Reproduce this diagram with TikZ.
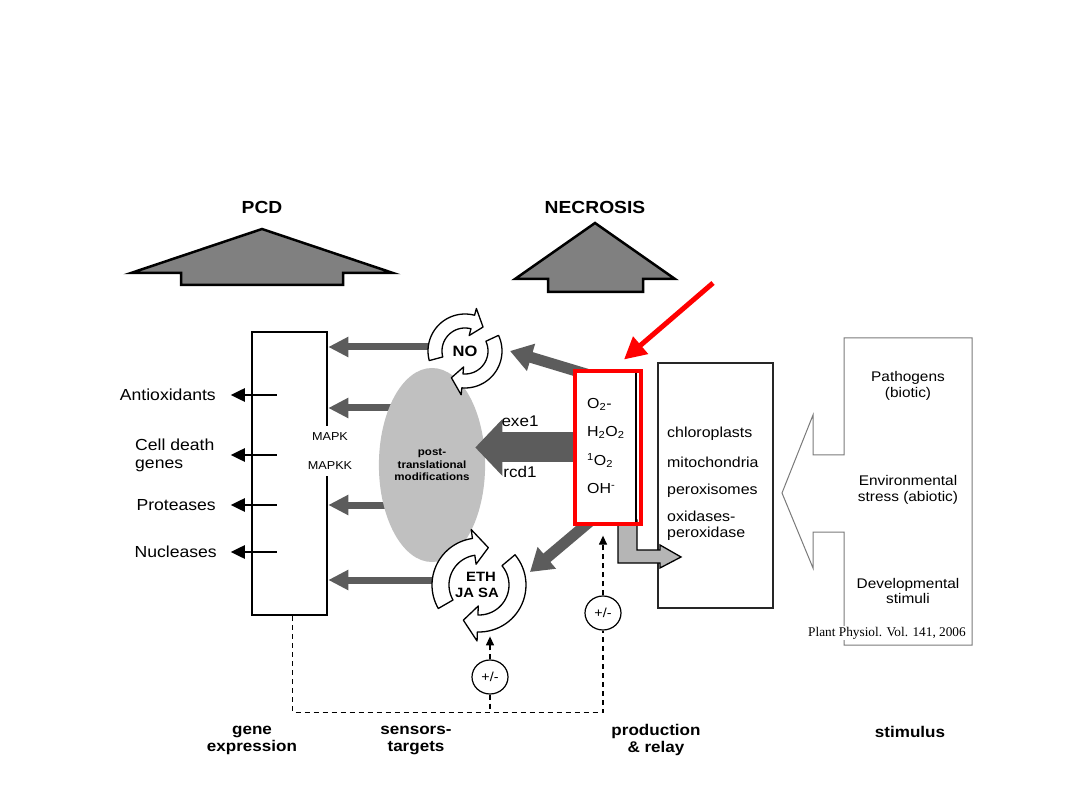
\documentclass[tikz,border=0pt]{standalone}
\usepackage{fontspec}
\setmainfont{Liberation Sans}[FakeStretch=1.1]
\newfontfamily\citefont{Liberation Serif}
\usetikzlibrary{arrows.meta,shapes.geometric,calc}
\definecolor{darkgrey}{HTML}{5C5C5C}
\definecolor{midgrey}{HTML}{808080}
\definecolor{ptmgrey}{HTML}{C0C0C0}
\definecolor{lgrey}{HTML}{B5B5B5}
\definecolor{stimgrey}{HTML}{7A7A7A}
\tikzset{
  title/.style={font=\fontsize{17.5}{20}\selectfont\bfseries,inner sep=0pt},
  bigup/.style={fill=midgrey,draw=black,line width=2.5pt},
  genebox/.style={rectangle,draw=black,line width=2.5pt,minimum width=75pt,
    minimum height=283pt,inner sep=0pt},
  mapkbox/.style={fill=white,align=center,inner xsep=1pt,inner ysep=7pt,
    font=\fontsize{11.5}{29}\selectfont},
  outlbl/.style={font=\fontsize{16}{18}\selectfont,inner sep=0pt},
  outarrow/.style={-{Triangle[length=14pt,width=13pt]},draw=black,line width=2.5pt},
  sarrow/.style={-{Triangle[length=20pt,width=19pt]},draw=darkgrey,line width=7pt},
  bigarrow/.style={-{Triangle[length=27pt,width=55pt]},draw=darkgrey,line width=30pt},
  roarrow/.style={-{Triangle[length=22pt,width=27pt]},draw=darkgrey,line width=11pt},
  ptm/.style={ellipse,fill=ptmgrey,minimum width=82pt,minimum height=194pt,
    inner sep=0pt,align=center,font=\fontsize{10.5}{12.5}\selectfont\bfseries},
  cyclbl/.style={align=center,inner sep=0pt,font=\fontsize{13.5}{16}\selectfont\bfseries},
  cycstyle/.style={fill=white,draw=black,line width=1.3pt,line join=round},
  pics/cycarrow/.style args={#1/#2/#3/#4/#5}{code={
    \draw[cycstyle] plot[domain=#1:#2,samples=30] (\x:#3)
      -- ({#2}:{#3+#5}) -- ({#2+22}:{(#3+#4)/2}) -- ({#2}:{#4-#5})
      -- plot[domain=#2:#1,samples=30] (\x:#4) -- cycle;
  }},
  explbl/.style={font=\fontsize{15.5}{18}\selectfont,inner sep=0pt},
  rosbox/.style={rectangle,draw=black,fill=white,line width=1.3pt,minimum width=61pt,
    minimum height=151pt,inner sep=0pt},
  hlbox/.style={rectangle,draw=red,line width=4pt,minimum width=66pt,
    minimum height=152pt,inner sep=0pt},
  rostext/.style={align=left,inner sep=0pt,font=\fontsize{14.5}{28.5}\selectfont},
  orgbox/.style={rectangle,draw=black!85,line width=1.3pt,minimum width=115pt,
    minimum height=245pt,inner sep=0pt},
  orgtext/.style={anchor=west,inner sep=0pt,align=left,font=\fontsize{14.5}{15.5}\selectfont},
  redarrow/.style={-{Triangle[length=22pt,width=22pt]},draw=red,line width=5pt},
  stimtext/.style={align=center,inner sep=0pt,font=\fontsize{14}{15.5}\selectfont},
  pm/.style={ellipse,draw=black,line width=1.2pt,minimum width=36pt,minimum height=34pt,
    inner sep=0pt,fill=white,font=\fontsize{13}{13}\selectfont},
  fb/.style={draw=black,line width=1.3pt,dash pattern=on 5pt off 4pt},
  fbarrow/.style={fb,-{Triangle[length=9pt,width=8pt]}},
  colhead/.style={align=center,inner sep=0pt,font=\fontsize{15.5}{17}\selectfont\bfseries},
}

\begin{document}
\begin{tikzpicture}[x=1pt,y=1pt,yscale=-1]
  \fill[white] (0,0) rectangle (1080,810);
  \useasboundingbox (0,0) rectangle (1080,810);

  % outcomes
  \node[title] (pcd) at (262,207) {PCD};
  \node[title] (necrosis) at (595,207) {NECROSIS};
  \draw[bigup] (262,229) -- (393,273) -- (343,273) -- (343,285) -- (181,285)
    -- (181,273) -- (131,273) -- cycle;
  \draw[bigup] (595,223) -- (675,279) -- (643,279) -- (643,292) -- (548,292)
    -- (548,279) -- (515,279) -- cycle;

  % gene expression
  \node[genebox] (gene) at (289.5,473.5) {};
  \coordinate (nocen)  at (465,351);
  \coordinate (ethcen) at (479,585);
  \coordinate (noout)  at ($(nocen)+(-31,-4)$);
  \coordinate (ptmtop) at (432,408);
  \coordinate (ptmbot) at (432,505);
  \coordinate (ethout) at ($(ethcen)+(-40,-5)$);
  \foreach \c in {noout,ptmtop,ptmbot,ethout}
    \draw[sarrow] (\c) -- (\c -| gene.east);
  \node[mapkbox] (mapk) at (330,451) {MAPK\\MAPKK};

  \node[outlbl,anchor=east] (antiox) at (216,395) {Antioxidants};
  \node[outlbl,anchor=west,align=left] (cdg) at (135,455) {Cell death\\genes};
  \node[outlbl,anchor=east] (prot) at (216,505) {Proteases};
  \node[outlbl,anchor=east] (nucl) at (217,552) {Nucleases};
  \foreach \n in {antiox,cdg,prot,nucl}
    \draw[outarrow] ($(gene.west |- \n)+(26,0)$) -- ($(gene.west |- \n)+(-20,0)$);

  % sensors - targets
  \node[ptm] (ptm) at (432,465) {post-\\translational\\modifications};
  \pic[transform shape] at (nocen) {cycarrow=165/285/37/23/7};
  \pic[transform shape] at (nocen) {cycarrow=335/455/37/23/7};
  \node[cyclbl,font=\fontsize{15}{16}\selectfont\bfseries] (no) at (nocen) {NO};
  \pic[transform shape] at (ethcen) {cycarrow=150/262/47/30/9};
  \pic[transform shape] at (ethcen) {cycarrow=320/452/47/30/9};
  \node[cyclbl] (eth) at ($(ethcen)+(-2,0)$) {\hspace*{8pt}ETH\\JA SA};

  % production & relay
  \node[orgbox] (org) at (715.5,485.5) {};
  \draw[fill=lgrey,draw=black,line width=1.3pt] (618,520) -- (637,520) -- (637,550)
    -- (660,550) -- (660,545) -- (681,557) -- (660,568) -- (660,563) -- (618,563) -- cycle;
  \coordinate (rosno)  at (589.5,375);
  \coordinate (roseth) at (594,518);
  \draw[roarrow] (rosno) -- ($(nocen)+(45,0)$);
  \draw[roarrow] (roseth) -- ($(ethcen)+(51,-13)$);
  \node[rosbox] (ros) at (605.5,447.5) {};
  \draw[bigarrow] (ros.west) -- ($(ptm.east |- ros.west)+(-10,0)$);
  \node[explbl] (exe) at (520,421) {exe1};
  \node[explbl] (rcd) at (520,472) {rcd1};
  \node[hlbox] (hl) at (608,447.5) {};
  \node[rostext,anchor=west] (rostxt) at (587,446)
    {O\textsubscript{2}-\\H\textsubscript{2}O\textsubscript{2}\\
     \textsuperscript{1}O\textsubscript{2}\\OH\textsuperscript{-}};
  \node[orgtext] (chl) at (667,434) {chloroplasts};
  \node[orgtext] (mit) at (667,462) {mitochondria};
  \node[orgtext] (per) at (667,491) {peroxisomes};
  \node[orgtext] (oxi) at (667,526) {oxidases-\\peroxidase};
  \coordinate (redtail) at (713,283);
  \draw[redarrow] (redtail) -- ($(hl.north west)+(51,-10)$);

  % stimulus
  \draw[draw=stimgrey,line width=1pt] (844,338) -- (972,338) -- (972,645) -- (844,645)
    -- (844,532) -- (813,532) -- (813,568) -- (782,493) -- (813,415) -- (813,455)
    -- (844,455) -- cycle;
  \node[stimtext] (path) at (908,386) {Pathogens\\(biotic)};
  \node[stimtext] (env)  at (908,490) {Environmental\\stress (abiotic)};
  \node[stimtext] (dev)  at (908,591) {Developmental\\stimuli};
  \node[fill=white,inner sep=1pt,font=\citefont\fontsize{13.3}{15}\selectfont]
    (cite) at (887,633) {Plant Physiol. Vol. 141, 2006};

  % feedback
  \node[pm] (pm1) at (490,677) {+/-};
  \node[pm] (pm2) at (603,613) {+/-};
  \coordinate (fbase) at ($(gene.south)+(3,96)$);
  \draw[fb] ($(gene.south)+(3,0)$) -- (fbase) -| (pm2.south);
  \draw[fb] (pm1.south) -- (pm1.south |- fbase);
  \draw[fbarrow] (pm1.north) -- ++(0,-23);
  \draw[fbarrow] (pm2.north) -- ($(pm2.north |- ros.south)+(0,12)$);

  % column headings
  \node[colhead] (colgene) at (252,740) {gene\\expression};
  \node[colhead] (colsens) at (416,740) {sensors-\\targets};
  \node[colhead] (colprod) at (656,740) {production\\\& relay};
  \node[colhead] (colstim) at (910,732) {stimulus};
\end{tikzpicture}
\end{document}
